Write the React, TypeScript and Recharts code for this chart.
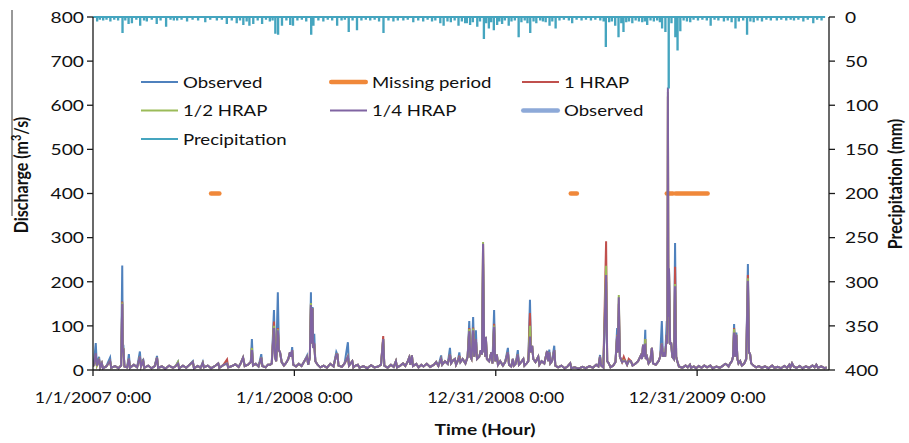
import React from 'react';
import { ComposedChart, Line, XAxis, YAxis, Legend } from 'recharts';

// Hourly discharge and precipitation, Jan 2007 - Sep 2010.
// Time is measured in days since 1/1/2007 0:00.

const FONT = 'Lato, "Noto Sans", sans-serif';
const STRETCH = 1.2;
const TIME_STRETCH = 1.1;

const timeAxisEnd = 1334;
const timeTicks = [0, 365, 730, 1095];
const timeTickLabels = ['1/1/2007 0:00', '1/1/2008 0:00', '12/31/2008 0:00', '12/31/2009 0:00'];
const dischargeTicks = [0, 100, 200, 300, 400, 500, 600, 700, 800];
const precipTicks = [0, 50, 100, 150, 200, 250, 300, 350, 400];

// [day, observed, 1 HRAP, 1/2 HRAP, 1/4 HRAP]; a short row means all series share the value
const flows2007: number[][] = [
  [0, 8], [2, 20, 12, 12, 14], [5, 61, 30, 32, 38], [7, 10], [11, 30, 22, 22, 25], [13, 6], [16, 15], [18, 4],
  [24, 8], [31, 28, 20, 20, 20], [33, 5], [40, 9], [46, 4], [51, 10], [53, 237, 155, 153, 150], [54, 40],
  [55, 57, 50, 50, 48], [57, 8], [62, 6], [65, 36, 25, 25, 25], [67, 5], [74, 12], [80, 6], [85, 42, 30, 30, 30],
  [87, 8], [91, 25, 20, 20, 20], [93, 5], [100, 10], [106, 4], [112, 9], [116, 32, 28, 28, 28], [118, 5],
  [125, 8], [131, 3], [138, 10], [145, 5], [150, 9], [154, 18, 16, 18, 15], [156, 4], [163, 10], [169, 5],
  [175, 12], [181, 20, 18, 18, 18], [183, 4], [190, 9], [195, 5], [199, 18, 16, 16, 16], [201, 6], [208, 10],
  [214, 4], [220, 8], [227, 15], [229, 5], [236, 11], [243, 15, 24, 15, 15], [245, 6], [252, 9], [258, 13],
  [264, 7], [268, 16], [272, 28], [275, 9], [281, 12], [286, 18], [288, 70, 50, 50, 45], [290, 10], [295, 14],
  [300, 8], [305, 36, 28, 28, 28], [307, 9], [313, 6], [317, 12], [321, 12], [324, 15], [328, 136, 110, 100, 95],
  [330, 30], [332, 20], [335, 176, 95, 92, 90], [337, 45], [339, 40], [342, 18], [346, 10], [350, 16], [354, 25],
  [357, 40], [359, 30], [361, 52, 45, 45, 45], [363, 12],
];

const flows2008: number[][] = [
  [368, 8], [373, 14], [378, 9], [383, 20], [388, 33, 30, 30, 30], [390, 12], [393, 28], [395, 176, 150, 152, 147],
  [396, 60], [398, 143, 140, 140, 140], [399, 50], [401, 82, 60, 58, 55], [403, 20], [407, 12], [412, 6], [418, 10],
  [424, 5], [430, 14], [436, 8], [441, 41, 35, 35, 35], [443, 35], [445, 10], [451, 7], [456, 15],
  [462, 63, 30, 30, 30], [464, 10], [470, 20], [472, 6], [476, 10], [480, 12], [483, 5], [490, 9], [497, 4],
  [504, 11], [510, 6], [517, 8], [522, 12], [526, 70, 77, 70, 70], [528, 10], [534, 5], [540, 12], [545, 7],
  [549, 20], [551, 6], [557, 10], [562, 15], [566, 9], [570, 18], [573, 28], [575, 12], [578, 33], [580, 9],
  [586, 14], [590, 6], [595, 12], [599, 8], [605, 14], [611, 7], [618, 12], [622, 18], [626, 9],
  [631, 33, 25, 25, 25], [633, 12], [638, 20], [643, 14], [647, 50, 35, 35, 35], [649, 15], [653, 22], [656, 25],
  [658, 12], [661, 20], [664, 40, 32, 28, 28], [666, 18], [670, 25], [675, 15], [679, 30], [682, 111, 95, 93, 88],
  [684, 30], [686, 25], [689, 120, 96, 94, 90], [691, 30], [694, 90, 70, 70, 70], [696, 25], [700, 30], [703, 45],
  [705, 35], [707, 240, 285, 290, 286], [709, 40], [710, 60], [711, 30], [712, 75], [714, 25], [718, 20],
  [722, 40], [724, 15], [727, 136, 105, 101, 98], [729, 20],
];

const flows2009: number[][] = [
  [732, 35], [734, 12], [738, 20], [743, 10], [747, 18], [752, 50, 40, 40, 40], [754, 12], [758, 8], [761, 25],
  [763, 10], [766, 14], [770, 45, 35, 35, 35], [772, 12], [776, 18], [780, 25], [782, 10], [786, 15], [789, 20],
  [792, 159, 129, 100, 76], [794, 40], [796, 55], [798, 25], [802, 18], [807, 30], [809, 12], [813, 20], [818, 15],
  [823, 43], [825, 20], [827, 46, 40, 40, 40], [829, 15], [832, 20], [836, 55, 45, 45, 45], [838, 10], [843, 6],
  [849, 10], [855, 4], [860, 8], [865, 15], [867, 4], [873, 6], [880, 3], [887, 7], [893, 4], [900, 9], [906, 5],
  [912, 12], [916, 8], [919, 34, 30, 30, 30], [921, 10], [925, 6], [930, 200, 292, 236, 215], [932, 20], [935, 15],
  [938, 6], [943, 10], [947, 18], [950, 95, 80, 78, 77], [951, 40], [953, 120, 150, 170, 165], [955, 30], [959, 18],
  [962, 25, 30, 22, 20], [965, 20], [968, 12], [971, 22, 25, 20, 20], [975, 20], [978, 10], [983, 14], [988, 20],
  [993, 33], [995, 25], [997, 57], [999, 30], [1001, 91, 70, 70, 60], [1002, 25], [1004, 30], [1007, 15],
  [1010, 20], [1013, 50], [1015, 15], [1020, 12], [1025, 20], [1028, 30], [1031, 111, 60, 60, 60], [1033, 30],
  [1035, 40], [1037, 30], [1040, 111, 80, 80, 80], [1041, 60], [1042, 300, 620, 630, 640], [1043, 120],
  [1044, 230, 225, 225, 230], [1046, 60], [1048, 60], [1050, 30], [1053, 25], [1055, 288, 234, 195, 190],
  [1057, 30], [1059, 20], [1062, 8], [1068, 5], [1074, 10], [1078, 6], [1082, 12], [1084, 5], [1089, 8], [1093, 4],
];

const flows2010: number[][] = [
  [1098, 9], [1103, 5], [1108, 10], [1113, 6], [1119, 10], [1123, 4], [1130, 8], [1136, 5], [1142, 10], [1146, 14],
  [1149, 12], [1152, 8], [1155, 15], [1158, 20], [1160, 30], [1162, 104, 95, 93, 85], [1164, 30],
  [1166, 85, 80, 80, 80], [1168, 25], [1170, 15], [1173, 20], [1176, 10], [1180, 14], [1184, 25],
  [1187, 240, 215, 208, 202], [1189, 40], [1191, 36], [1193, 15], [1197, 10], [1202, 6], [1207, 9], [1212, 5],
  [1218, 8], [1224, 4], [1231, 10], [1235, 5], [1241, 7], [1247, 4], [1253, 9], [1258, 5], [1262, 12], [1264, 6],
  [1267, 15], [1270, 8], [1275, 5], [1281, 9], [1286, 4], [1292, 8], [1298, 5], [1304, 10], [1308, 6], [1311, 12],
  [1314, 5], [1320, 8], [1326, 4], [1330, 6],
];

// [day, mm] hourly precipitation, drawn as steps hanging from the top
const rain2007: number[][] = [
  [0, 0], [7, 4], [8, 0], [12, 2], [13, 0], [18, 3], [19, 0], [24, 2], [25, 0], [31, 4], [32, 0], [38, 2], [39, 0],
  [45, 3], [46, 0], [53, 17], [54, 0], [58, 3], [59, 0], [64, 7], [65, 0], [70, 6], [71, 0], [78, 2], [79, 0],
  [85, 9], [86, 0], [92, 3], [93, 0], [97, 4], [98, 0], [106, 2], [107, 0], [115, 7], [116, 0], [122, 3], [123, 0],
  [132, 10], [133, 0], [140, 2], [141, 0], [146, 3], [147, 0], [152, 3], [153, 0], [160, 2], [161, 0], [170, 4],
  [171, 0], [180, 2], [181, 0], [190, 3], [191, 0], [203, 5], [204, 0], [212, 2], [213, 0], [224, 3], [225, 0],
  [233, 2], [234, 0], [242, 7], [243, 0], [251, 3], [252, 0], [260, 6], [261, 0], [266, 3], [267, 0], [272, 8],
  [273, 0], [278, 4], [279, 0], [283, 9], [284, 0], [290, 7], [291, 0], [298, 3], [299, 0], [306, 7], [307, 0],
  [313, 2], [314, 0], [320, 4], [321, 0], [325, 3], [326, 0], [330, 18], [331, 0], [335, 19], [336, 0], [342, 9],
  [343, 0], [350, 3], [351, 0], [357, 8], [358, 0], [362, 9], [363, 0],
];

const rain2008: number[][] = [
  [370, 3], [371, 0], [378, 2], [379, 0], [386, 4], [387, 0], [395, 19], [396, 0], [399, 9], [400, 0], [408, 3],
  [409, 0], [417, 4], [418, 0], [425, 2], [426, 0], [433, 3], [434, 0], [442, 9], [443, 0], [450, 3], [451, 0],
  [456, 2], [457, 0], [463, 16], [464, 0], [470, 3], [471, 0], [478, 14], [479, 0], [486, 3], [487, 0], [494, 2],
  [495, 0], [502, 3], [503, 0], [510, 2], [511, 0], [518, 4], [519, 0], [526, 17], [527, 0], [535, 3], [536, 0],
  [544, 4], [545, 0], [552, 3], [553, 0], [562, 3], [563, 0], [570, 2], [571, 0], [580, 5], [581, 0], [589, 3],
  [590, 0], [598, 4], [599, 0], [606, 2], [607, 0], [614, 4], [615, 0], [620, 3], [621, 0], [629, 6], [630, 0],
  [635, 9], [636, 0], [642, 4], [643, 0], [648, 5], [649, 0], [655, 3], [656, 0], [662, 9], [663, 0], [668, 4],
  [669, 0], [674, 6], [675, 0], [677, 6], [678, 0], [683, 8], [684, 0], [688, 5], [689, 0], [696, 10], [697, 0],
  [701, 4], [702, 0], [708, 24], [709, 0], [712, 6], [713, 0], [717, 12], [718, 0], [721, 5], [722, 0], [726, 14],
  [727, 0],
];

const rain2009: number[][] = [
  [732, 8], [733, 0], [736, 4], [737, 0], [741, 7], [742, 0], [746, 3], [747, 0], [753, 9], [754, 0], [758, 4],
  [759, 0], [764, 3], [765, 0], [771, 22], [772, 0], [776, 5], [777, 0], [782, 3], [783, 0], [787, 6], [788, 0],
  [792, 17], [793, 0], [798, 4], [799, 0], [803, 6], [804, 0], [810, 3], [811, 0], [815, 4], [816, 0], [820, 5],
  [821, 0], [827, 9], [828, 0], [832, 4], [833, 0], [838, 12], [839, 0], [845, 3], [846, 0], [853, 2], [854, 0],
  [862, 3], [863, 0], [868, 6], [869, 0], [876, 2], [877, 0], [885, 3], [886, 0], [893, 2], [894, 0], [902, 3],
  [903, 0], [910, 2], [911, 0], [919, 3], [920, 0], [925, 4], [926, 0], [929, 33], [930, 0], [935, 5], [936, 0],
  [940, 4], [941, 0], [946, 9], [947, 0], [952, 22], [953, 0], [957, 6], [958, 0], [961, 16], [962, 0], [966, 5],
  [967, 0], [971, 4], [972, 0], [977, 6], [978, 0], [983, 3], [984, 0], [989, 4], [990, 0], [995, 5], [996, 0],
  [1000, 4], [1001, 0], [1004, 8], [1005, 0], [1010, 3], [1011, 0], [1016, 4], [1017, 0], [1022, 3], [1023, 0],
  [1027, 5], [1028, 0], [1031, 12], [1032, 0], [1037, 16], [1038, 0], [1043, 80], [1044, 0], [1048, 6], [1049, 0],
  [1055, 22], [1056, 0], [1059, 37], [1060, 0], [1064, 15], [1065, 0], [1070, 3], [1071, 0], [1076, 4], [1077, 0],
  [1082, 5], [1083, 0], [1088, 2], [1089, 0],
];

const rain2010: number[][] = [
  [1096, 3], [1097, 0], [1104, 2], [1105, 0], [1112, 3], [1113, 0], [1119, 9], [1120, 0], [1126, 2], [1127, 0],
  [1133, 3], [1134, 0], [1143, 4], [1144, 0], [1150, 3], [1151, 0], [1157, 5], [1158, 0], [1164, 12], [1165, 0],
  [1170, 4], [1171, 0], [1178, 3], [1179, 0], [1185, 19], [1186, 0], [1191, 4], [1192, 0], [1197, 5], [1198, 0],
  [1204, 3], [1205, 0], [1212, 4], [1213, 0], [1220, 2], [1221, 0], [1228, 3], [1229, 0], [1239, 3], [1240, 0],
  [1247, 2], [1248, 0], [1256, 3], [1257, 0], [1264, 2], [1265, 0], [1270, 3], [1271, 0], [1278, 2], [1279, 0],
  [1287, 4], [1288, 0], [1295, 2], [1296, 0], [1305, 6], [1306, 0], [1312, 2], [1313, 0], [1320, 3], [1321, 0],
  [1327, 0],
];

// gaps in the observed record, [start day, end day], marked at a fixed discharge level
const missingPeriods = [[214, 229], [866, 877], [1040, 1051], [1056, 1114]];
const missingMarkerLevel = 400;

const COLORS = {
  observed: '#4F81BD',
  missing: '#F0883A',
  hrap1: '#C0504D',
  hrapHalf: '#9BBB59',
  hrapQuarter: '#8064A2',
  observedThick: '#8DA9D8',
  precip: '#45A5BF',
};

const legendItems = [
  { label: 'Observed', color: COLORS.observed, width: 2 },
  { label: 'Missing period', color: COLORS.missing, width: 4.5 },
  { label: '1 HRAP', color: COLORS.hrap1, width: 2 },
  { label: '1/2 HRAP', color: COLORS.hrapHalf, width: 2 },
  { label: '1/4 HRAP', color: COLORS.hrapQuarter, width: 2 },
  { label: 'Observed', color: COLORS.observedThick, width: 4.5 },
  { label: 'Precipitation', color: COLORS.precip, width: 2 },
];

const dischargeRows = [...flows2007, ...flows2008, ...flows2009, ...flows2010].map(
  ([day, obs, h1 = obs, h12 = h1, h14 = h12]) => ({
    day,
    observed: obs,
    hrap1: h1,
    hrapHalf: h12,
    hrapQuarter: h14,
  })
);

const rainRows = [...rain2007, ...rain2008, ...rain2009, ...rain2010].map(([day, mm]) => ({ day, rain: mm }));

const missingSegments = missingPeriods.map(([start, end]) => [
  { day: start, missing: missingMarkerLevel },
  { day: end, missing: missingMarkerLevel },
]);

const TEXT_COLOR = '#111';

const TimeTick = (props: any) => {
  const { x, y, payload } = props;
  const idx = timeTicks.indexOf(payload.value);
  const label = idx >= 0 ? timeTickLabels[idx] : String(payload.value);
  return (
    <text
      transform={`translate(${x},${y}) scale(${TIME_STRETCH},1)`}
      textAnchor="middle"
      dy="0.71em"
      fontFamily={FONT}
      fontSize={16}
      fill={TEXT_COLOR}
    >
      {label}
    </text>
  );
};

const ValueTick = (props: any) => {
  const { x, y, payload, anchor } = props;
  return (
    <text
      transform={`translate(${x},${y}) scale(${STRETCH},1)`}
      textAnchor={anchor}
      dy="0.36em"
      fontFamily={FONT}
      fontSize={16}
      fill={TEXT_COLOR}
    >
      {payload.value}
    </text>
  );
};

const TimeTitle = () => (
  <text
    transform={`translate(485,429) scale(${STRETCH},1)`}
    textAnchor="middle"
    dy="0.36em"
    fontFamily={FONT}
    fontSize={16}
    fontWeight={700}
    fill={TEXT_COLOR}
  >
    Time (Hour)
  </text>
);

const DischargeTitle = () => (
  <g>
    <line x1={12} y1={10} x2={12} y2={216} stroke="#333" strokeWidth={1} />
    <text
      transform={`translate(21,175) scale(${STRETCH},1) rotate(-90)`}
      textAnchor="middle"
      dy="0.36em"
      fontFamily={FONT}
      fontSize={16}
      fontWeight={700}
      fill={TEXT_COLOR}
    >
      Discharge (m
      <tspan dy={-6} fontSize={11}>3</tspan>
      <tspan dy={6}>/s)</tspan>
    </text>
  </g>
);

const PrecipTitle = () => (
  <text
    transform={`translate(895,184) scale(${STRETCH},1) rotate(-90)`}
    textAnchor="middle"
    dy="0.36em"
    fontFamily={FONT}
    fontSize={16}
    fontWeight={700}
    fill={TEXT_COLOR}
  >
    Precipitation (mm)
  </text>
);

const legendColumns = [140, 329, 521];
const legendRows = [82, 110.5, 139];
const legendSampleLength = 39;

const LegendOverlay = () => (
  <svg width={909} height={443} style={{ display: 'block' }}>
    {legendItems.map((item, i) => {
      const x = legendColumns[i % 3];
      const y = legendRows[Math.floor(i / 3)];
      return (
        <g key={i}>
          <line
            x1={x + item.width / 2}
            y1={y}
            x2={x + legendSampleLength - item.width / 2}
            y2={y}
            stroke={item.color}
            strokeWidth={item.width}
            strokeLinecap={item.width > 3 ? 'round' : 'butt'}
          />
          <text
            transform={`translate(${x + legendSampleLength + 4},${y}) scale(${STRETCH},1)`}
            dy="0.36em"
            fontFamily={FONT}
            fontSize={15.5}
            fill={TEXT_COLOR}
          >
            {item.label}
          </text>
        </g>
      );
    })}
  </svg>
);

const axisStroke = { stroke: '#1a1a1a', strokeWidth: 1.3 };
const SERIES_WIDTH = 2;

export default function App() {
  return (
    <div style={{ position: 'absolute', left: 0, top: 0, width: 909, height: 443, background: '#fff' }}>
      <ComposedChart
        width={909}
        height={443}
        data={dischargeRows}
        margin={{ top: 17, right: 0, bottom: 0, left: 0 }}
      >
        <XAxis
          dataKey="day"
          type="number"
          domain={[0, timeAxisEnd]}
          ticks={timeTicks}
          interval={0}
          allowDataOverflow
          height={73}
          tickSize={6}
          tickMargin={16}
          axisLine={axisStroke}
          tickLine={axisStroke}
          tick={<TimeTick />}
          label={<TimeTitle />}
        />
        <YAxis
          yAxisId="flow"
          type="number"
          domain={[0, 800]}
          ticks={dischargeTicks}
          interval={0}
          width={93}
          tickSize={6}
          tickMargin={3}
          axisLine={axisStroke}
          tickLine={axisStroke}
          tick={<ValueTick anchor="end" />}
          label={<DischargeTitle />}
        />
        <YAxis
          yAxisId="rain"
          orientation="right"
          type="number"
          reversed
          domain={[0, 400]}
          ticks={precipTicks}
          interval={0}
          width={80}
          tickSize={6}
          tickMargin={10}
          axisLine={axisStroke}
          tickLine={axisStroke}
          tick={<ValueTick anchor="start" />}
          label={<PrecipTitle />}
        />
        <Legend
          layout="horizontal"
          verticalAlign="middle"
          align="center"
          wrapperStyle={{ position: 'absolute', left: 0, top: 0, width: 909, height: 443, pointerEvents: 'none' }}
          content={() => <LegendOverlay />}
        />
        {missingSegments.map((seg, i) => (
          <Line
            key={`missing-${i}`}
            yAxisId="flow"
            data={seg}
            dataKey="missing"
            stroke={COLORS.missing}
            strokeWidth={4.5}
            strokeLinecap="round"
            dot={false}
            activeDot={false}
            isAnimationActive={false}
          />
        ))}
        <Line yAxisId="flow" dataKey="observed" stroke={COLORS.observed} strokeWidth={SERIES_WIDTH} dot={false} activeDot={false} isAnimationActive={false} />
        <Line yAxisId="flow" dataKey="hrap1" stroke={COLORS.hrap1} strokeWidth={SERIES_WIDTH} dot={false} activeDot={false} isAnimationActive={false} />
        <Line yAxisId="flow" dataKey="hrapHalf" stroke={COLORS.hrapHalf} strokeWidth={SERIES_WIDTH} dot={false} activeDot={false} isAnimationActive={false} />
        <Line yAxisId="flow" dataKey="hrapQuarter" stroke={COLORS.hrapQuarter} strokeWidth={SERIES_WIDTH} dot={false} activeDot={false} isAnimationActive={false} />
        <Line
          yAxisId="rain"
          data={rainRows}
          dataKey="rain"
          type="stepAfter"
          stroke={COLORS.precip}
          strokeWidth={1.8}
          dot={false}
          activeDot={false}
          isAnimationActive={false}
        />
      </ComposedChart>
    </div>
  );
}
